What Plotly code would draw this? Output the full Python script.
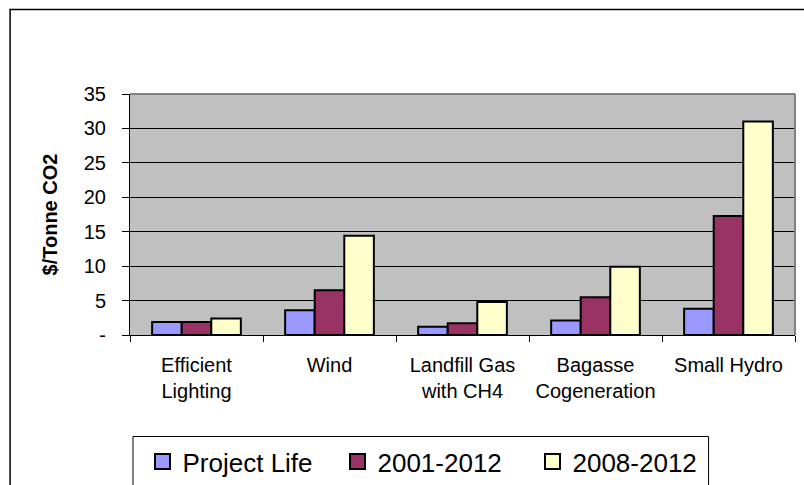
import plotly.graph_objects as go

categories = ["Efficient<br>Lighting", "Wind", "Landfill Gas<br>with CH4", "Bagasse<br>Cogeneration", "Small Hydro"]
project_life = [1.9, 3.6, 1.2, 2.1, 3.8]
y2001_2012 = [1.9, 6.5, 1.7, 5.5, 17.3]
y2008_2012 = [2.4, 14.4, 4.8, 9.9, 31.0]
series_names = ["Project Life", "2001-2012", "2008-2012"]
series_colors = ["#9999FF", "#993366", "#FFFFCC"]
y_tickvals = [0, 5, 10, 15, 20, 25, 30, 35]
y_ticktext = ["-", "5", "10", "15", "20", "25", "30", "35"]

FONT = "Liberation Sans, Arial, sans-serif"
W, H = 804, 485
L, R, T, B = 129.5, 795, 94, 335

fig = go.Figure()
for name, vals, col in zip(series_names, [project_life, y2001_2012, y2008_2012], series_colors):
    fig.add_trace(go.Bar(
        x=categories, y=vals, name=name, showlegend=False,
        marker=dict(color=col, line=dict(color="black", width=2)),
    ))
for name, col in zip(series_names, series_colors):
    fig.add_trace(go.Scatter(
        x=[categories[0]], y=[None], name=name, mode="markers",
        marker=dict(symbol="square", size=15, color=col, line=dict(color="black", width=2)),
    ))

def px_x(px):
    return (px - L) / (R - L)

def px_y(py):
    return (B - py) / (B - T)

fig.update_layout(
    width=W, height=H,
    margin=dict(l=L, r=W - R, t=T, b=H - B, pad=0, autoexpand=False),
    paper_bgcolor="white", plot_bgcolor="#C0C0C0",
    font=dict(family=FONT, size=20, color="black"),
    barmode="group", bargap=0.333, bargroupgap=0,
    showlegend=True,
    legend=dict(
        orientation="h", x=px_x(142), xanchor="left", y=px_y(438), yanchor="top",
        font=dict(size=26, family=FONT), bgcolor="rgba(0,0,0,0)", borderwidth=0,
        entrywidth=150, itemsizing="trace",
    ),
    xaxis=dict(
        type="category", tickson="boundaries", ticks="outside", ticklen=6, tickcolor="black",
        showline=True, linecolor="black", linewidth=1, showgrid=False,
        tickfont=dict(size=20), ticklabelstandoff=12, automargin=False,
    ),
    yaxis=dict(
        range=[0, 35], tickvals=y_tickvals, ticktext=y_ticktext,
        ticks="outside", ticklen=7, tickcolor="black",
        showline=True, linecolor="black", linewidth=1,
        showgrid=True, gridcolor="black", gridwidth=1, zeroline=False,
        tickfont=dict(size=20), ticklabelstandoff=12, automargin=False,
        title=dict(text="<b>$/Tonne CO2</b>", font=dict(size=20), standoff=20),
    ),
    shapes=[
        dict(type="line", xref="paper", yref="paper", x0=0, x1=1, y0=1, y1=1,
             line=dict(color="#808080", width=2)),
        dict(type="line", xref="paper", yref="paper", x0=1, x1=1, y0=0, y1=1,
             line=dict(color="#808080", width=2)),
        dict(type="rect", xref="paper", yref="paper",
             x0=px_x(9.5), x1=px_x(830), y0=px_y(9.5), y1=px_y(520),
             line=dict(color="black", width=1.5)),
        dict(type="rect", xref="paper", yref="paper",
             x0=px_x(132.5), x1=px_x(708.5), y0=px_y(436.5), y1=px_y(520),
             line=dict(color="black", width=1)),
    ],
)

fig.write_html(
    "out.html",
    config={"displayModeBar": False},
    post_script="document.body.style.margin='0';document.body.style.overflow='hidden';",
)
